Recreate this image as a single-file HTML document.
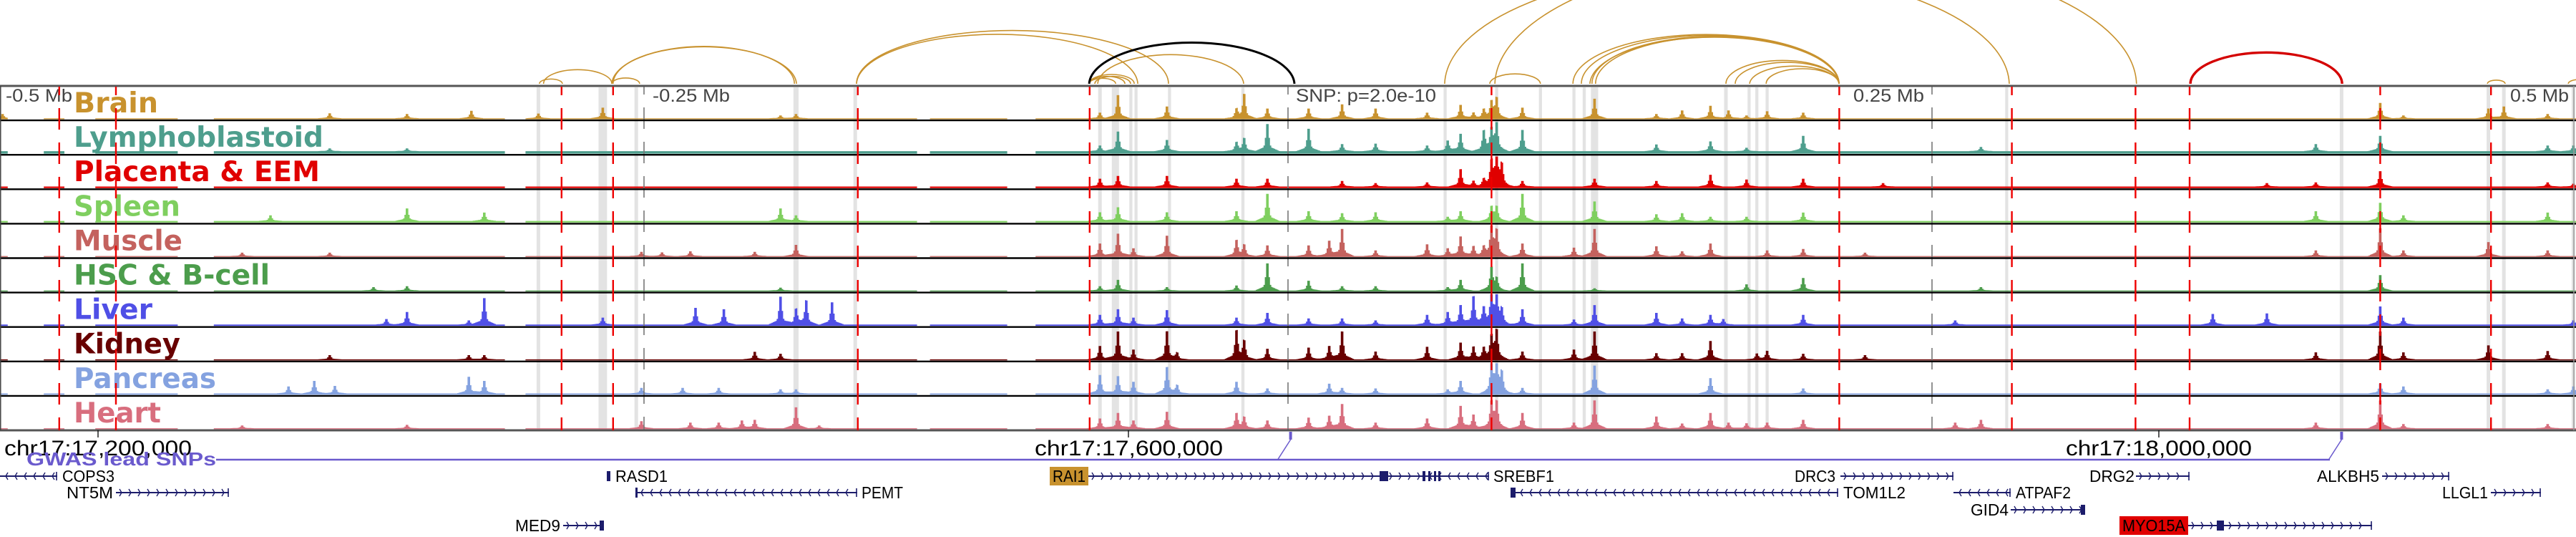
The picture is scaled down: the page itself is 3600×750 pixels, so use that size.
<!DOCTYPE html>
<html><head><meta charset="utf-8"><title>Genome browser tracks</title>
<style>
html,body{margin:0;padding:0;background:#fff;}
svg{display:block;}
text{font-family:"Liberation Sans","DejaVu Sans",sans-serif;}
.tl{font-family:"DejaVu Sans","Liberation Sans",sans-serif;font-weight:bold;font-size:39px;}
.mb{font-size:25px;fill:#444;}
.gn{font-size:23px;fill:#000;}
</style></head>
<body>
<svg id="chart" xmlns="http://www.w3.org/2000/svg" width="3600" height="750" viewBox="0 0 3600 750">
<rect x="0" y="0" width="3600" height="750" fill="#fff"/>
<g id="bands"></g>
<g id="signals"></g>
<g id="vlines"></g>
<g id="frames"></g>
<g id="labels"></g>
<g id="redlines"></g>
<g id="arcs"></g>
<g id="axis"></g>
<g id="genes"></g>
</svg>
<script>
// ---- data (kb offsets from lead SNP) ----
const trackNames = ["Brain","Lymphoblastoid","Placenta & EEM","Spleen","Muscle","HSC & B-cell","Liver","Kidney","Pancreas","Heart"];
const trackColors = ["#c8922e","#4e9e8d","#e00000","#7fcf5f","#c4625e","#4c9d4c","#4f4fe6","#680000","#84a2e0","#d86e7e"];
const labelWidths = [118,349,344,149,152,274,110,149,199,122];
const bgLevels = [0.03,0.08,0.05,0.05,0.03,0.03,0.04,0.03,0.04,0.03];
const coverage = [[-500,-497],[-483,-475],[-463,-431],[-417,-304],[-296,-144],[-139,-109],[-98,500]];
const peaksBrain = [[-499,.15],[-372,.18],[-342,.15],[-317,.27],[-291,.17],[-266,.38],[-197,.1],[-191,.15],[-73,.2],[-66,.83],[-47,.42],[-20,.3],[-17,.85],[-8,.35],[8,.35],[21,.5],[34,.35],[54,.2],[67,.48],[72,.2],[76,.3],[79,.55],[81,.7],[91,.38],[119,.7],[143,.15],[153,.28],[164,.45],[171,.28],[178,.1],[186,.25],[200,.2],[424,.55],[433,.1],[466,.35],[472,.42],[489,.15]];
const peaksLymph = [[-372,.1],[-342,.1],[-73,.2],[-66,.7],[-47,.4],[-20,.3],[-17,.45],[-8,.97],[8,.8],[21,.25],[34,.27],[54,.2],[62,.38],[67,.62],[76,.7],[79,.7],[81,.97],[91,.76],[143,.24],[164,.35],[178,.12],[200,.55],[269,.15],[399,.25],[424,.55],[489,.2],[499,.2]];
const peaksPlacenta = [[-73,.28],[-66,.38],[-47,.38],[-20,.28],[-8,.28],[21,.2],[34,.12],[54,.15],[67,.62],[72,.2],[76,.24],[79,.83],[81,1],[83,.73],[91,.2],[119,.28],[143,.2],[164,.42],[178,.25],[200,.28],[231,.12],[380,.12],[399,.15],[424,.55],[489,.15],[499,.1]];
const peaksSpleen = [[-395,.2],[-342,.45],[-312,.3],[-197,.45],[-191,.2],[-73,.31],[-66,.49],[-47,.31],[-20,.35],[-8,.97],[8,.35],[21,.28],[34,.31],[62,.15],[67,.35],[79,.49],[81,.49],[91,.97],[119,.7],[143,.24],[153,.28],[164,.15],[178,.15],[200,.3],[399,.35],[424,.65],[433,.2],[489,.3]];
const peaksMuscle = [[-406,.12],[-372,.12],[-251,.15],[-243,.13],[-232,.17],[-207,.15],[-191,.4],[-73,.45],[-66,.8],[-60,.28],[-47,.73],[-20,.55],[-17,.38],[-8,.38],[8,.38],[16,.55],[21,.97],[34,.2],[54,.42],[62,.28],[67,.7],[72,.35],[76,.3],[79,.97],[81,.87],[91,.45],[111,.3],[119,.97],[143,.35],[153,.17],[164,.45],[186,.2],[200,.25],[224,.12],[399,.2],[424,1],[433,.2],[466,.5],[489,.2]];
const peaksHSC = [[-355,.12],[-342,.15],[-197,.1],[-73,.15],[-66,.38],[-47,.12],[-20,.18],[-8,.97],[8,.35],[21,.15],[34,.15],[62,.12],[67,.38],[79,.8],[81,.4],[91,.97],[119,.08],[178,.22],[200,.45],[269,.12],[424,.55]];
const peaksLiver = [[-350,.2],[-342,.45],[-318,.15],[-312,.95],[-266,.25],[-230,.6],[-219,.55],[-197,1],[-191,.55],[-187,.85],[-177,.8],[-73,.35],[-66,.55],[-60,.25],[-47,.52],[-20,.25],[-8,.42],[8,.22],[21,.22],[34,.15],[54,.35],[62,.45],[67,.7],[72,1],[76,.55],[79,1],[81,.94],[83,.5],[91,.55],[111,.18],[119,.7],[143,.42],[153,.22],[164,.35],[169,.2],[200,.35],[259,.15],[359,.38],[380,.4],[424,.65],[433,.25],[499,.15]];
const peaksKidney = [[-372,.15],[-318,.15],[-312,.15],[-207,.27],[-197,.2],[-73,.48],[-66,1],[-60,.35],[-47,1],[-43,.22],[-20,1],[-17,.62],[-8,.38],[8,.42],[16,.48],[21,1],[34,.28],[54,.45],[67,.6],[72,.45],[76,.38],[79,.76],[81,1],[91,.28],[111,.35],[119,1],[143,.22],[153,.22],[164,.66],[182,.2],[186,.3],[200,.2],[224,.15],[399,.25],[424,1],[433,.25],[466,.5],[489,.3]];
const peaksPancreas = [[-388,.25],[-378,.45],[-370,.27],[-318,.6],[-312,.45],[-251,.2],[-235,.2],[-221,.2],[-197,.15],[-191,.15],[-73,.66],[-66,.62],[-60,.42],[-47,.94],[-43,.28],[-20,.42],[-8,.18],[16,.35],[21,.2],[34,.18],[62,.15],[67,.45],[79,1],[81,.94],[83,.7],[91,.2],[119,1],[164,.55],[200,.18],[424,.35],[433,.25],[489,.15],[499,.25]];
const peaksHeart = [[-406,.1],[-342,.12],[-251,.25],[-232,.2],[-221,.2],[-212,.28],[-207,.3],[-191,.75],[-182,.1],[-73,.35],[-66,.55],[-60,.28],[-47,.59],[-20,.52],[-17,.38],[-8,.28],[8,.38],[16,.45],[21,.87],[34,.2],[54,.35],[67,.8],[72,.49],[79,.9],[81,.9],[91,.55],[111,.2],[119,1],[143,.42],[153,.17],[164,.55],[171,.2],[178,.18],[186,.2],[200,.3],[259,.2],[269,.3],[399,.2],[424,1],[433,.15],[489,.15]];
const peaksByTrack = [peaksBrain,peaksLymph,peaksPlacenta,peaksSpleen,peaksMuscle,peaksHSC,peaksLiver,peaksKidney,peaksPancreas,peaksHeart];
const grayBands = [[-291,1.4],[-266,3.3],[-253,1.4],[-191,2],[-168,1.4],[-73,1.4],[-67,2.8],[-61,1.2],[-59,1.2],[-46,1.2],[-17.5,1.2],[61,1.2],[81,1.2],[98,1.2],[111,1.2],[115,1.2],[119,2.8],[170,1.4],[179,1.2],[182,1.2],[186,1.2],[279,1.2],[409,1.4],[466,1.4],[472,1.4],[499,1.4]];
const redLines = [-477,-455,-282,-262,-167,-77,79,214,281,329,350,424,467];
const tickLines = [-250,0,250];
const goldArcs = [[-290.6,-281.7],[-289,-262.5],[-262.5,-251.7],[-262.5,-190.8],[-262,-191.6],[-167.5,-46.4],[-167.5,-58.3],[-73.9,-17.2],[-77.2,-66.9],[-77.2,-63.3],[-77.2,-59.7],[-75,-61.1],[60.8,280],[80.3,329.4],[78.3,98],[110.6,213.9],[113.9,213.9],[117.2,213.9],[118,213.9],[119.4,213.9],[170,213.9],[173.6,213.9],[179.2,213.9],[185.6,213.9],[465.6,472.5],[497,505]];
const blackArcs = [[-77.2,2.5]];
const redArcs = [[350.3,409.2]];

// ---- geometry ----
const X0 = 1800, PXKB = 3.6;
function xs(kb){ return X0 + kb*PXKB; }
const TOP = 120, TH = 48.1;
function trackTop(i){ return TOP + i*TH; }
const NS = 'http://www.w3.org/2000/svg';
function mk(tag, attrs, parent){
  const el = document.createElementNS(NS, tag);
  for (const k in attrs) el.setAttribute(k, attrs[k]);
  parent.appendChild(el);
  return el;
}
const gBands = document.getElementById('bands');
const gSig = document.getElementById('signals');
const gV = document.getElementById('vlines');
const gF = document.getElementById('frames');
const gL = document.getElementById('labels');
const gR = document.getElementById('redlines');
const gA = document.getElementById('arcs');
const gAx = document.getElementById('axis');
const gG = document.getElementById('genes');
const BOTTOM = trackTop(10);

grayBands.forEach(b => {
  const w = Math.max(4, b[1]*PXKB);
  const r = mk('rect', {x: xs(b[0]) - w/2, y: TOP+2, width: w, height: BOTTOM-TOP-3, fill: '#e3e3e3'}, gBands);
  
  
});

function covered(kb){ for (const c of coverage) if (kb>=c[0] && kb<=c[1]) return true; return false; }
const BIN = 0.5, PW = 1.6;
peaksByTrack.forEach((peaks, i) => {
  const base = trackTop(i) + TH - 1.6;
  const maxH = TH - 4;
  let d = 'M0 ' + base;
  for (let kb = -500; kb < 500; kb += BIN) {
    const c = kb + BIN/2;
    let v = 0;
    if (covered(c)) {
      v = bgLevels[i];
      for (const p of peaks) {
        const t = 1 - Math.abs(c - p[0]) / PW;
        if (t > 0) v += p[1]*t*t;
        const s = 1 - Math.abs(c - p[0]) / (PW*3);
        if (s > 0) v += p[1]*0.18*s;
      }
    }
    v = Math.min(1, v);
    const y = base - v*maxH;
    d += ' L' + xs(kb).toFixed(1) + ' ' + y.toFixed(1) + ' L' + xs(kb+BIN).toFixed(1) + ' ' + y.toFixed(1);
  }
  d += ' L3600 ' + base + ' Z';
  const p = mk('path', {d: d, fill: trackColors[i]}, gSig);
  
  
});

tickLines.forEach(kb => {
  const l = mk('line', {x1: xs(kb), x2: xs(kb), y1: TOP, y2: BOTTOM, stroke: '#777', 'stroke-width': 1.6, 'stroke-dasharray': '30 18', 'stroke-dashoffset': 18}, gV);
  
  
});

for (let i = 0; i <= 10; i++) {
  const y = trackTop(i);
  const l = mk('line', {x1: 0, x2: 3600, y1: y, y2: y, stroke: (i===0||i===10) ? '#555' : '#000', 'stroke-width': (i===0||i===10) ? 3 : 2.4}, gF);
  
  
}
const lf = mk('line', {x1: 0.8, x2: 0.8, y1: TOP, y2: BOTTOM, stroke: '#444', 'stroke-width': 1.5}, gF);


const rf = mk('line', {x1: 3597, x2: 3597, y1: TOP, y2: BOTTOM, stroke: '#999', 'stroke-width': 1.5}, gF);



trackNames.forEach((n, i) => {
  const t = mk('text', {x: 103, y: trackTop(i) + 37, fill: trackColors[i], class: 'tl', textLength: labelWidths[i], lengthAdjust: 'spacingAndGlyphs'}, gL);
  t.textContent = n;
  
  
});
const mbLabels = [["-0.5 Mb", 8, 93], ["-0.25 Mb", 912, 108], ["SNP: p=2.0e-10", 1811, 196], ["0.25 Mb", 2590, 99], ["0.5 Mb", 3508, 82]];
mbLabels.forEach(m => {
  const t = mk('text', {x: m[1], y: 142, class: 'mb', textLength: m[2], lengthAdjust: 'spacingAndGlyphs'}, gL);
  t.textContent = m[0];
  
  
});

redLines.forEach(kb => {
  const l = mk('line', {x1: xs(kb), x2: xs(kb), y1: TOP+1, y2: BOTTOM, stroke: '#ee0000', 'stroke-width': 2.4, 'stroke-dasharray': '30 18', 'stroke-dashoffset': 18}, gR);
  
  
});

const ARC_BASE = 117;
function arcRise(w){
  if (w < 300) return 0.206*w;
  if (w < 600) return 61.8*Math.sqrt(w/300);
  return 0.206*w;
}
function drawArc(a, color, w, name){
  const x1 = xs(a[0]), x2 = xs(a[1]);
  const wd = x2 - x1, rx = wd/2, ry = arcRise(wd);
  const p = mk('path', {d: 'M' + x1.toFixed(1) + ' ' + ARC_BASE + ' A' + rx.toFixed(1) + ' ' + ry.toFixed(1) + ' 0 0 1 ' + x2.toFixed(1) + ' ' + ARC_BASE, fill: 'none', stroke: color, 'stroke-width': w}, gA);
  
  
}
goldArcs.forEach(a => drawArc(a, '#c8922e', 1.6, 'arc-brain'));
blackArcs.forEach(a => drawArc(a, '#000', 3, 'arc-lead-snp'));
redArcs.forEach(a => drawArc(a, '#d40000', 3.4, 'arc-highlight'));

const axisTicks = [[17200, "chr17:17,200,000", 6, 262], [17600, "chr17:17,600,000", 1446, 263], [18000, "chr17:18,000,000", 2887, 260]];
axisTicks.forEach(t => {
  const x = 1577 + (t[0] - 17600)*3.6;
  const l = mk('line', {x1: x, x2: x, y1: BOTTOM, y2: BOTTOM+10, stroke: '#000', 'stroke-width': 1.3}, gAx);
  
  
  const tx = mk('text', {x: t[2], y: 636, 'font-size': 30, fill: '#000', textLength: t[3], lengthAdjust: 'spacingAndGlyphs'}, gAx);
  tx.textContent = t[1];
  
  
});

const gw = mk('text', {x: 37, y: 650, 'font-size': 26, 'font-weight': 'bold', fill: '#6a5acd', textLength: 265, lengthAdjust: 'spacingAndGlyphs'}, gAx);
gw.textContent = 'GWAS lead SNPs';


const gwl = mk('line', {x1: 302, x2: 3256, y1: 642, y2: 642, stroke: '#6a5acd', 'stroke-width': 2.4}, gAx);


const gwasSnps = [1.0, 409];
gwasSnps.forEach(kb => {
  const x = xs(kb);
  const r = mk('rect', {x: x-2, y: 603, width: 4, height: 11, fill: '#6a5acd'}, gAx);
  
  
  const l = mk('line', {x1: x, y1: 614, x2: x-18, y2: 642, stroke: '#6a5acd', 'stroke-width': 1.5}, gAx);
  
  
});

const genes = [
  ["COPS3", 0, 80, 665, -1, 87, 73, null, []],
  ["NT5M", 162, 320, 688, 1, 93, 65, null, []],
  ["RASD1", 848, 852, 665, 0, 860, 73, null, [[848,5]]],
  ["PEMT", 888, 1198, 688, -1, 1204, 58, null, [[888,3]]],
  ["MED9", 787, 843, 734, 1, 720, 63, null, [[838,6]]],
  ["RAI1", 1521, 1990, 665, 1, 1467, 54, "#c8922e", [[1928,12]]],
  ["SREBF1", 1990, 2081, 665, -1, 2087, 85, null, [[1988,4],[1996,3],[2004,3],[2010,3]]],
  ["TOM1L2", 2117, 2569, 688, -1, 2576, 87, null, [[2111,7]]],
  ["DRC3", 2572, 2730, 665, 1, 2508, 57, null, []],
  ["ATPAF2", 2730, 2810, 688, -1, 2817, 77, null, []],
  ["GID4", 2810, 2913, 712, 1, 2754, 53, null, [[2908,6]]],
  ["MYO15A", 3058, 3315, 734, 1, 2962, 96, "#e00000", [[3098,10]]],
  ["DRG2", 2985, 3060, 665, 1, 2920, 63, null, []],
  ["ALKBH5", 3329, 3423, 665, 1, 3238, 87, null, []],
  ["LLGL1", 3481, 3551, 688, 1, 3413, 64, null, []]
];
genes.forEach(g => {
  const [name, x1, x2, y, dir, lx, lw, bg, boxes] = g;
  const grp = mk('g', {}, gG);
  
  
  mk('line', {x1: x1, x2: x2, y1: y, y2: y, stroke: '#1c1c6b', 'stroke-width': 2}, grp);
  if (dir !== 0) {
    let d = '';
    for (let x = x1 + 8; x < x2 - 3; x += 13) {
      d += 'M' + (x - 3*dir) + ' ' + (y-5) + ' L' + x + ' ' + y + ' L' + (x - 3*dir) + ' ' + (y+5) + ' ';
    }
    mk('path', {d: d, fill: 'none', stroke: '#1c1c6b', 'stroke-width': 1.4}, grp);
    mk('line', {x1: x2-1, x2: x2-1, y1: y-6, y2: y+6, stroke: '#1c1c6b', 'stroke-width': 1.6}, grp);
  }
  boxes.forEach(b => mk('rect', {x: b[0], y: y-7, width: b[1], height: 14, fill: '#1c1c6b'}, grp));
  if (bg) mk('rect', {x: lx, y: y-13, width: lw, height: 26, fill: bg}, grp);
  const t = mk('text', {x: bg ? lx+4 : lx, y: y+8, class: 'gn', fill: bg ? '#fff' : '#000', textLength: bg ? lw-8 : lw, lengthAdjust: 'spacingAndGlyphs'}, grp);
  t.textContent = name;
});
</script>
</body></html>
